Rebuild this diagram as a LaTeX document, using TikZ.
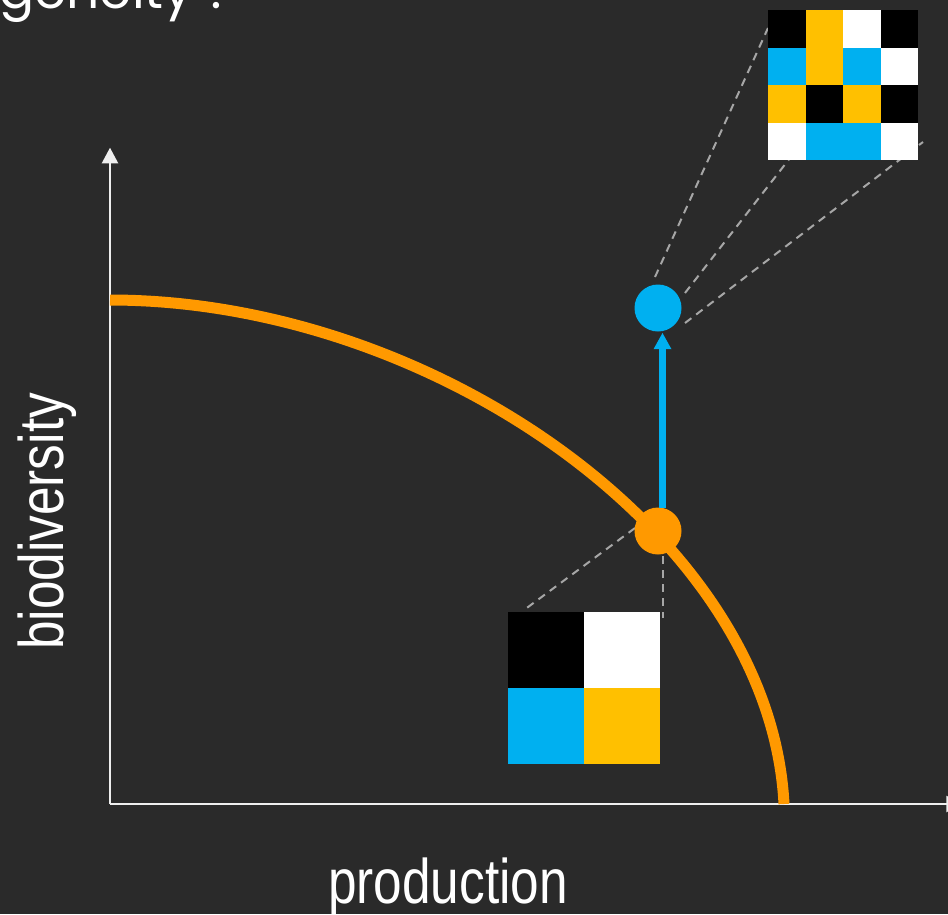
\documentclass[tikz,border=0pt]{standalone}
\usepackage{fontspec}
\setmainfont{Liberation Sans}
\newfontfamily\popfont{Poppins}
\usetikzlibrary{arrows.meta}
\definecolor{bg}{HTML}{2A2A2A}
\definecolor{orangec}{HTML}{FF9900}
\definecolor{bluec}{HTML}{00B0F0}
\definecolor{yellowc}{HTML}{FFC000}
\definecolor{dashc}{HTML}{A6A6A6}
\definecolor{axisc}{HTML}{EEEEEE}
\tikzset{
  axisline/.style={draw=axisc, line width=2.2pt, -{Triangle[length=15.6pt,width=16pt]}},
  guide/.style={draw=dashc, line width=2pt, dash pattern=on 8pt off 6pt},
  dot/.style={circle, inner sep=0pt, minimum size=47pt},
  label/.style={text=white, inner sep=0pt, font=\fontsize{63}{70}\selectfont},
}
\begin{document}
\begin{tikzpicture}[x=1pt,y=-1pt]
\useasboundingbox (0,0) rectangle (948,914);
\fill[bg] (0,0) rectangle (948,914);

% title fragment
\node[anchor=base west, inner sep=0pt, text=white, font=\popfont\fontsize{52}{58}\selectfont] (title) at (-1,8) {geneity ?};

% coordinates
\coordinate (origin) at (110,804);
\coordinate (ytip) at (110,147.7);
\coordinate (xtip) at (962,804);
\coordinate (cstart) at (110,300);
\coordinate (cend) at (784,804);

% dashed guides (top)
\draw[guide] (655,277) -- (768,28);
\draw[guide] (685,293) -- (790,158);
\draw[guide] (685,323) -- (923,142);
% dashed guides (bottom)
\draw[guide] (635,528) -- (524,610);
\draw[guide] (663,556) -- (663,618);

% axes
\draw[axisline] (origin) -- (ytip);
\draw[axisline] (origin) -- (xtip);

% frontier curve
\draw[orangec, line width=11pt] (cstart) .. controls (430,300) and (770,534) .. (cend);

% top grid 4x4
\begin{scope}[shift={(768,10)}]
\foreach \c [count=\i from 0] in {black,yellowc,white,black}
  \fill[\c] (\i*37.5,0) rectangle ++(37.5,37.5);
\foreach \c [count=\i from 0] in {bluec,yellowc,bluec,white}
  \fill[\c] (\i*37.5,37.5) rectangle ++(37.5,37.5);
\foreach \c [count=\i from 0] in {yellowc,black,yellowc,black}
  \fill[\c] (\i*37.5,75) rectangle ++(37.5,37.5);
\foreach \c [count=\i from 0] in {white,bluec,bluec,white}
  \fill[\c] (\i*37.5,112.5) rectangle ++(37.5,37.5);
\end{scope}

% bottom grid 2x2
\fill[black]   (508,612) rectangle (584,688);
\fill[white]   (584,612) rectangle (660,688);
\fill[bluec]   (508,688) rectangle (584,764);
\fill[yellowc] (584,688) rectangle (660,764);

% dots
\node[dot, fill=orangec] (odot) at (658,531) {};
\node[dot, fill=bluec] (bdot) at (658,308) {};

% arrow
\coordinate (abase) at (662.5,508);
\coordinate (atip) at (662.5,332.7);
\draw[bluec, line width=6.3pt, -{Triangle[length=16.5pt,width=16.7pt]}] (abase) -- (atip);

% labels
\node[label, anchor=base west, rotate=90] (ylab) at (63,650) {\scalebox{0.815}[1]{biodiversity}};
\node[label, anchor=base west] (xlab) at (328,903) {\scalebox{0.815}[1]{production}};
\end{tikzpicture}
\end{document}
